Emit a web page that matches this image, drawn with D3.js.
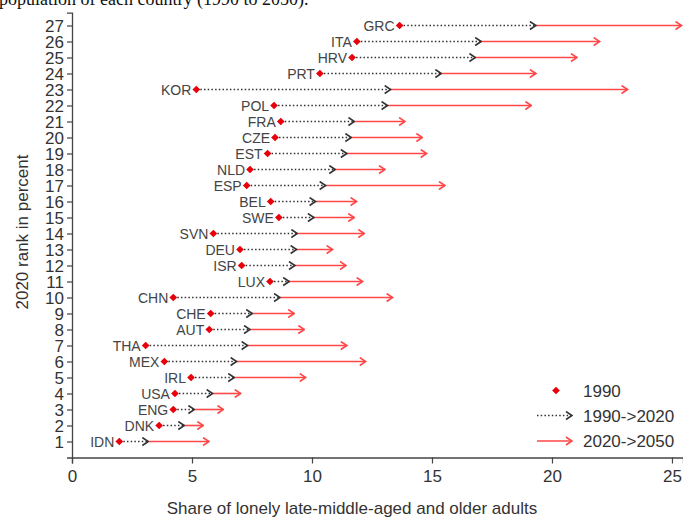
<!DOCTYPE html>
<html>
<head>
<meta charset="utf-8">
<script src="https://cdn.jsdelivr.net/npm/d3@7"></script>
<style>
  body { margin: 0; background: #fff; }
  svg { display: block; }
  text { font-family: "Liberation Sans", Arial, sans-serif; fill: #333; }
</style>
</head>
<body>
<div class="container"></div>
<script>
// countries, ordered by 2020 rank (1 = lowest)
var countries = ["IDN","DNK","ENG","USA","IRL","MEX","THA","AUT","CHE","CHN","LUX","ISR","DEU","SVN",
                 "SWE","BEL","ESP","NLD","EST","CZE","FRA","POL","KOR","PRT","HRV","ITA","GRC"];
var ranks = d3.range(1, 28);

// share of lonely adults
var share1990 = [1.97,3.63,4.22,4.29,4.96,3.85,3.07,5.72,5.78,4.22,8.25,7.07,7.00,5.89,
                 8.62,8.28,7.28,7.42,8.15,8.46,8.70,8.42,5.18,10.33,11.67,11.87,13.65];
var share2020 = [3.18,4.68,5.10,5.86,6.76,6.86,7.32,7.42,7.51,8.67,9.05,9.29,9.36,9.39,
                 10.08,10.15,10.57,10.97,11.45,11.64,11.77,13.15,13.28,15.39,16.81,17.05,19.33];
var share2050 = [5.71,5.47,6.31,7.03,9.74,12.24,11.45,9.68,9.26,13.36,12.11,11.42,10.86,12.18,
                 11.76,11.86,15.54,13.04,14.78,14.60,13.88,19.14,23.15,19.33,21.04,21.99,25.40];

var xTicks = [0, 5, 10, 15, 20, 25];
var legendLabels = ["1990", "1990->2020", "2020->2050"];

var width = 683, height = 519;
var red = "#e8000b", pink = "#ff4747", gray = "#333";

var svg = d3.select(".container").append("svg")
  .attr("width", width).attr("height", height);

// arrow heads
var defs = svg.append("defs");
function chevron(id, color) {
  defs.append("marker")
    .attr("id", id)
    .attr("markerUnits", "userSpaceOnUse")
    .attr("viewBox", "0 0 8 10")
    .attr("markerWidth", 8).attr("markerHeight", 10)
    .attr("refX", 7).attr("refY", 5)
    .attr("orient", "auto")
    .append("path")
    .attr("d", "M1,1 L7,5 L1,9")
    .attr("fill", "none")
    .attr("stroke", color)
    .attr("stroke-width", 1.6);
}
chevron("head-gray", gray);
chevron("head-red", pink);

// cut-off caption line from the page above
svg.append("text")
  .attr("x", -1).attr("y", 5)
  .style("font-family", "'Liberation Serif', 'Times New Roman', serif")
  .style("font-size", "18px")
  .style("fill", "#111")
  .text("population of each country (1990 to 2050).");

var x = d3.scaleLinear().domain([0, 25.46]).range([72, 683]);
var y = d3.scaleLinear().domain([0, 27.8]).range([457.5, 12.7]);

var rows = countries.map(function(c, i) {
  return { code: c, rank: ranks[i], a: share1990[i], b: share2020[i], c: share2050[i] };
});

// axes
var xAxis = svg.append("g")
  .attr("transform", "translate(0," + y(0) + ")")
  .call(d3.axisBottom(x).tickValues(xTicks).tickSize(6).tickPadding(6).tickFormat(d3.format("d")));
var yAxis = svg.append("g")
  .attr("transform", "translate(" + x(0) + ",0)")
  .call(d3.axisLeft(y).tickValues(ranks).tickSize(5).tickPadding(3).tickFormat(d3.format("d")));

[xAxis, yAxis].forEach(function(a) {
  a.select(".domain").attr("stroke", "#444").attr("stroke-width", 1.3);
  a.selectAll(".tick line").attr("stroke", "#444").attr("stroke-width", 1.2);
  a.selectAll(".tick text").style("font-size", "17px").style("fill", "#333")
    .style("font-family", "'Liberation Sans', Arial, sans-serif");
});
yAxis.selectAll(".tick text").attr("dy", "0.36em");

// 2020 -> 2050 red arrows
svg.append("g").selectAll("line.future")
  .data(rows).enter().append("line")
  .attr("x1", function(d) { return x(d.b); })
  .attr("x2", function(d) { return x(d.c); })
  .attr("y1", function(d) { return y(d.rank); })
  .attr("y2", function(d) { return y(d.rank); })
  .attr("stroke", pink)
  .attr("stroke-width", 1.6)
  .attr("marker-end", "url(#head-red)");

// 1990 -> 2020 dotted arrows
svg.append("g").selectAll("line.past")
  .data(rows).enter().append("line")
  .attr("x1", function(d) { return x(d.a) + 4; })
  .attr("x2", function(d) { return x(d.b); })
  .attr("y1", function(d) { return y(d.rank); })
  .attr("y2", function(d) { return y(d.rank); })
  .attr("stroke", gray)
  .attr("stroke-width", 1.5)
  .attr("stroke-dasharray", "1.5,2.2")
  .attr("marker-end", "url(#head-gray)");

// 1990 diamonds
var diamond = d3.symbol().type(d3.symbolSquare).size(30);
svg.append("g").selectAll("path")
  .data(rows).enter().append("path")
  .attr("d", diamond)
  .attr("transform", function(d) { return "translate(" + x(d.a) + "," + y(d.rank) + ") rotate(45)"; })
  .attr("fill", red);

// country labels
svg.append("g").selectAll("text")
  .data(rows).enter().append("text")
  .attr("x", function(d) { return x(d.a) - 5; })
  .attr("y", function(d) { return y(d.rank); })
  .attr("dy", "0.36em")
  .attr("text-anchor", "end")
  .style("font-size", "14px")
  .style("fill", "#444")
  .text(function(d) { return d.code; });

// axis titles
svg.append("text")
  .attr("x", 352).attr("y", 514)
  .attr("text-anchor", "middle")
  .style("font-size", "17px")
  .text("Share of lonely late-middle-aged and older adults");

svg.append("text")
  .attr("transform", "translate(28,232) rotate(-90)")
  .attr("text-anchor", "middle")
  .style("font-size", "17px")
  .text("2020 rank in percent");

// legend
var legend = svg.append("g");
var ly = [390.5, 415.5, 441];
legend.append("path")
  .attr("d", diamond)
  .attr("transform", "translate(556," + ly[0] + ") rotate(45)")
  .attr("fill", red);
legend.append("line")
  .attr("x1", 537).attr("x2", 572).attr("y1", ly[1]).attr("y2", ly[1])
  .attr("stroke", gray).attr("stroke-width", 1.5)
  .attr("stroke-dasharray", "1.5,2.2")
  .attr("marker-end", "url(#head-gray)");
legend.append("line")
  .attr("x1", 537).attr("x2", 572).attr("y1", ly[2]).attr("y2", ly[2])
  .attr("stroke", pink).attr("stroke-width", 1.6)
  .attr("marker-end", "url(#head-red)");
legend.selectAll("text")
  .data(legendLabels).enter().append("text")
  .attr("x", 583)
  .attr("y", function(d, i) { return ly[i]; })
  .attr("dy", "0.36em")
  .style("font-size", "17px")
  .text(function(d) { return d; });
</script>
</body>
</html>
